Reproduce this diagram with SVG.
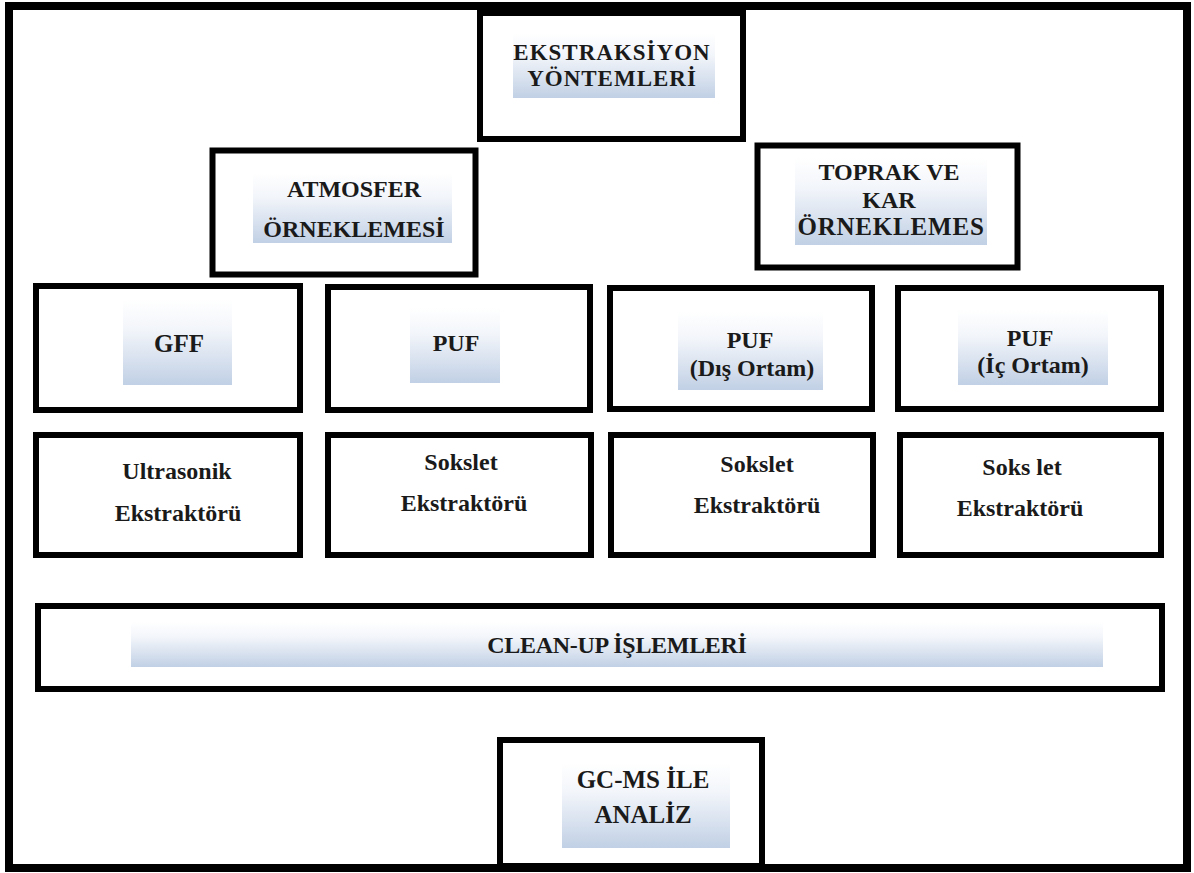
<svg xmlns="http://www.w3.org/2000/svg" width="1194" height="873" viewBox="0 0 1194 873">
<style>
.box{fill:#ffffff;stroke:#000000;stroke-width:6}
.frame{fill:#ffffff;stroke:#000000;stroke-width:8}
.gr{fill:url(#bluegrad)}
text{font-family:"Liberation Serif","Times New Roman",serif;font-weight:bold;fill:#1a1a1a;text-anchor:middle}
.t23{font-size:23px;letter-spacing:1px}
.t24{font-size:24px}
.t25{font-size:25px}
.clean{font-size:24px;letter-spacing:-0.3px}
</style>
<defs>
<linearGradient id="bluegrad" x1="0" y1="0" x2="0" y2="1">
<stop offset="0" stop-color="#ffffff"/>
<stop offset="0.35" stop-color="#f2f5fa"/>
<stop offset="1" stop-color="#c1d0e5"/>
</linearGradient>
</defs>
<rect class="frame" x="9" y="6" width="1178" height="862"/>
<g id="connectors"/>
<g id="n-ekstraksiyon">
<rect class="box" x="480" y="13" width="263" height="126"/>
<rect class="gr" x="513" y="33" width="202" height="65"/>
<text class="t23" x="612" y="60">EKSTRAKSİYON</text>
<text class="t23" x="612" y="86">YÖNTEMLERİ</text>
</g>
<g id="n-atmosfer">
<rect class="box" x="212.5" y="150.5" width="263" height="124"/>
<rect class="gr" x="253" y="173" width="199" height="70"/>
<text class="t24" x="354" y="197">ATMOSFER</text>
<text class="t24" x="354" y="237">ÖRNEKLEMESİ</text>
</g>
<g id="n-toprak">
<rect class="box" x="757.5" y="145.5" width="260" height="122"/>
<rect class="gr" x="795" y="158" width="192" height="87"/>
<text class="t24" x="889" y="180">TOPRAK VE</text>
<text class="t24" x="889" y="208">KAR</text>
<text class="t25" x="891" y="235" style="letter-spacing:0.8px">ÖRNEKLEMES</text>
</g>
<g id="n-gff">
<rect class="box" x="36" y="286" width="264" height="124"/>
<rect class="gr" x="123" y="300" width="109" height="85"/>
<text class="t25" x="179" y="352">GFF</text>
</g>
<g id="n-puf">
<rect class="box" x="328" y="287" width="262" height="123"/>
<rect class="gr" x="410" y="308" width="90" height="75"/>
<text class="t24" x="456" y="351">PUF</text>
</g>
<g id="n-puf-dis">
<rect class="box" x="610" y="288" width="262" height="121"/>
<rect class="gr" x="678" y="312" width="145" height="78"/>
<text class="t24" x="750" y="348">PUF</text>
<text class="t24" x="752" y="376">(Dış Ortam)</text>
</g>
<g id="n-puf-ic">
<rect class="box" x="898" y="288" width="263" height="121"/>
<rect class="gr" x="958" y="310" width="150" height="75"/>
<text class="t24" x="1030" y="346">PUF</text>
<text class="t24" x="1033" y="373">(İç Ortam)</text>
</g>
<g id="n-ultrasonik">
<rect class="box" x="36" y="435" width="264" height="120"/>
<text class="t24" x="177" y="479">Ultrasonik</text>
<text class="t24" x="178" y="521">Ekstraktörü</text>
</g>
<g id="n-sokslet1">
<rect class="box" x="328" y="435" width="263" height="120"/>
<text class="t24" x="461" y="470">Sokslet</text>
<text class="t24" x="464" y="511">Ekstraktörü</text>
</g>
<g id="n-sokslet2">
<rect class="box" x="611" y="435" width="262" height="120"/>
<text class="t24" x="757" y="472">Sokslet</text>
<text class="t24" x="757" y="513">Ekstraktörü</text>
</g>
<g id="n-sokslet3">
<rect class="box" x="900" y="435" width="261" height="120"/>
<text class="t24" x="1022" y="475">Soks let</text>
<text class="t24" x="1020" y="516">Ekstraktörü</text>
</g>
<g id="n-cleanup">
<rect class="box" x="38" y="606" width="1124" height="83"/>
<rect class="gr" x="131" y="622" width="972" height="45"/>
<text class="clean" x="617" y="653">CLEAN-UP İŞLEMLERİ</text>
</g>
<g id="n-gcms">
<rect class="box" x="500" y="740" width="262" height="126"/>
<rect class="gr" x="562" y="763" width="168" height="85"/>
<text class="t25" x="643" y="788">GC-MS İLE</text>
<text class="t25" x="643" y="823">ANALİZ</text>
</g>
</svg>
